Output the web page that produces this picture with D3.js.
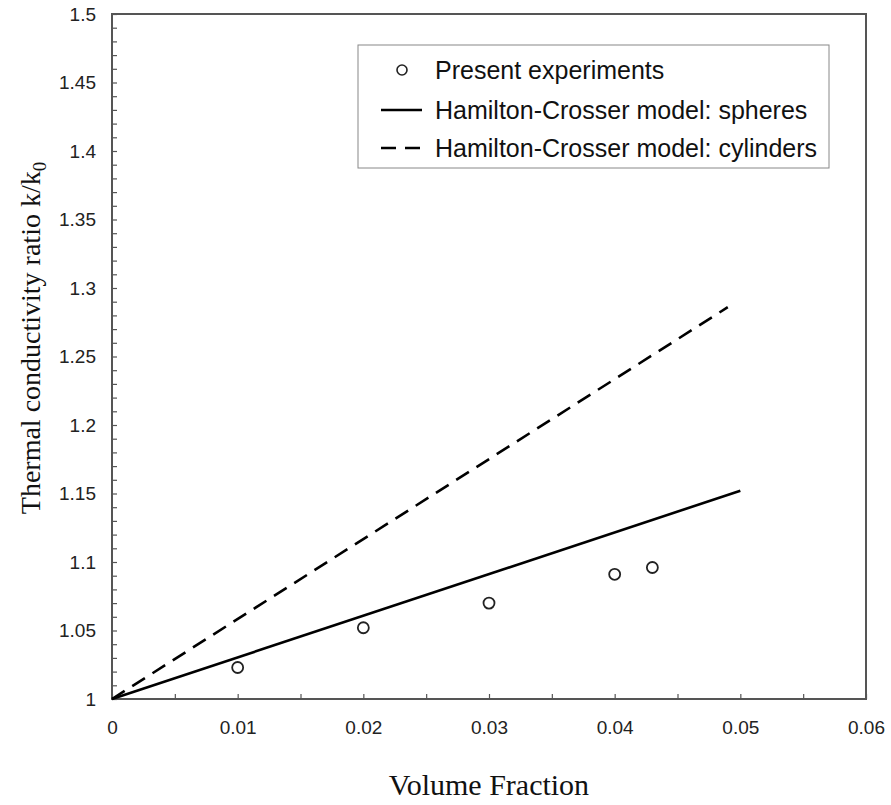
<!DOCTYPE html>
<html>
<head>
<meta charset="utf-8">
<script src="https://cdn.jsdelivr.net/npm/d3@7"></script>
<style>
  body { margin: 0; background: #fff; }
  svg { display: block; }
</style>
</head>
<body>
<div id="chart"></div>
<script>
// data
const expX = [0.01, 0.02, 0.03, 0.04, 0.043];
const expY = [1.023, 1.052, 1.070, 1.091, 1.096];
const sphereX = [0, 0.05];
const sphereY = [1, 1.152];
const cylX = [0, 0.049];
const cylY = [1, 1.286];
const xTicks = [0, 0.01, 0.02, 0.03, 0.04, 0.05, 0.06];
const yTicks = [1, 1.05, 1.1, 1.15, 1.2, 1.25, 1.3, 1.35, 1.4, 1.45, 1.5];
const legendLabels = ["Present experiments", "Hamilton-Crosser model: spheres", "Hamilton-Crosser model: cylinders"];

const W = 891, H = 805;
const margin = {top: 14, right: 25, bottom: 106, left: 112};
const width = W - margin.left - margin.right;
const height = H - margin.top - margin.bottom;

const svg = d3.select("#chart").append("svg")
    .attr("width", W)
    .attr("height", H);

svg.append("rect").attr("width", W).attr("height", H).attr("fill", "#fff");

const g = svg.append("g").attr("transform", "translate(" + margin.left + "," + margin.top + ")");

const x = d3.scaleLinear().domain([0, 0.06]).range([0, width]);
const y = d3.scaleLinear().domain([1, 1.5]).range([height, 0]);

const axisColor = "#555";
const labelFont = "Liberation Sans, Arial, sans-serif";
const titleFont = "Liberation Serif, Times New Roman, serif";

// minor ticks (inside)
const xMinor = d3.range(0, 0.0601, 0.005);
const yMinor = d3.range(1, 1.5001, 0.01);

g.append("g")
    .attr("transform", "translate(0," + height + ")")
    .call(d3.axisBottom(x).tickValues(xMinor).tickSize(-5).tickFormat(""))
    .call(a => a.select(".domain").remove())
    .selectAll("line").attr("stroke", axisColor).attr("stroke-width", 1.2);

g.append("g")
    .call(d3.axisLeft(y).tickValues(yMinor).tickSize(-5).tickFormat(""))
    .call(a => a.select(".domain").remove())
    .selectAll("line").attr("stroke", axisColor).attr("stroke-width", 1.2);

// tick labels
const xAxis = g.append("g")
    .attr("transform", "translate(0," + height + ")")
    .call(d3.axisBottom(x).tickValues(xTicks).tickSize(0).tickPadding(22).tickFormat(d => d3.format("")(+d.toFixed(3))));
xAxis.select(".domain").remove();
xAxis.selectAll("text").attr("font-family", labelFont).attr("font-size", 19).attr("fill", "#222");

const yAxis = g.append("g")
    .call(d3.axisLeft(y).tickValues(yTicks).tickSize(0).tickPadding(16).tickFormat(d => d3.format("")(+d.toFixed(2))));
yAxis.select(".domain").remove();
yAxis.selectAll("text").attr("font-family", labelFont).attr("font-size", 19).attr("fill", "#222");

// frame
g.append("rect")
    .attr("width", width).attr("height", height)
    .attr("fill", "none").attr("stroke", axisColor).attr("stroke-width", 2);

// lines
const line = d3.line().x(d => x(d[0])).y(d => y(d[1]));
g.append("path")
    .datum(d3.zip(sphereX, sphereY))
    .attr("fill", "none").attr("stroke", "#000").attr("stroke-width", 2.6)
    .attr("d", line);
g.append("path")
    .datum(d3.zip(cylX, cylY))
    .attr("fill", "none").attr("stroke", "#000").attr("stroke-width", 2.6)
    .attr("stroke-dasharray", "15,9")
    .attr("d", line);

// experiment points
g.selectAll("circle.exp")
    .data(d3.zip(expX, expY))
    .join("circle")
    .attr("class", "exp")
    .attr("cx", d => x(d[0])).attr("cy", d => y(d[1]))
    .attr("r", 5.5)
    .attr("fill", "#fff").attr("stroke", "#222").attr("stroke-width", 1.8);

// legend
const lg = svg.append("g").attr("transform", "translate(358,45)");
lg.append("rect").attr("width", 471).attr("height", 123)
    .attr("fill", "#fff").attr("stroke", "#888").attr("stroke-width", 1);
const rowY = [25, 65, 103];
lg.append("circle").attr("cx", 44).attr("cy", rowY[0]).attr("r", 5)
    .attr("fill", "#fff").attr("stroke", "#222").attr("stroke-width", 1.6);
lg.append("line").attr("x1", 23).attr("x2", 64).attr("y1", rowY[1]).attr("y2", rowY[1])
    .attr("stroke", "#000").attr("stroke-width", 2.6);
lg.append("line").attr("x1", 23).attr("x2", 64).attr("y1", rowY[2]).attr("y2", rowY[2])
    .attr("stroke", "#000").attr("stroke-width", 2.6).attr("stroke-dasharray", "15,9");
lg.selectAll("text.leg")
    .data(legendLabels)
    .join("text")
    .attr("class", "leg")
    .attr("x", 77).attr("y", (d, i) => rowY[i])
    .attr("dy", "0.35em")
    .attr("font-family", labelFont).attr("font-size", 25).attr("fill", "#111")
    .text(d => d);

// axis titles
svg.append("text")
    .attr("x", margin.left + x(0.03)).attr("y", 795)
    .attr("text-anchor", "middle")
    .attr("font-family", titleFont).attr("font-size", 30).attr("fill", "#111")
    .text("Volume Fraction");

const yt = svg.append("text")
    .attr("transform", "translate(40,338) rotate(-90)")
    .attr("text-anchor", "middle")
    .attr("font-family", titleFont).attr("font-size", 28).attr("fill", "#111");
yt.append("tspan").text("Thermal conductivity ratio k/k");
yt.append("tspan").attr("font-size", 19).attr("dy", 6).text("0");
</script>
</body>
</html>
